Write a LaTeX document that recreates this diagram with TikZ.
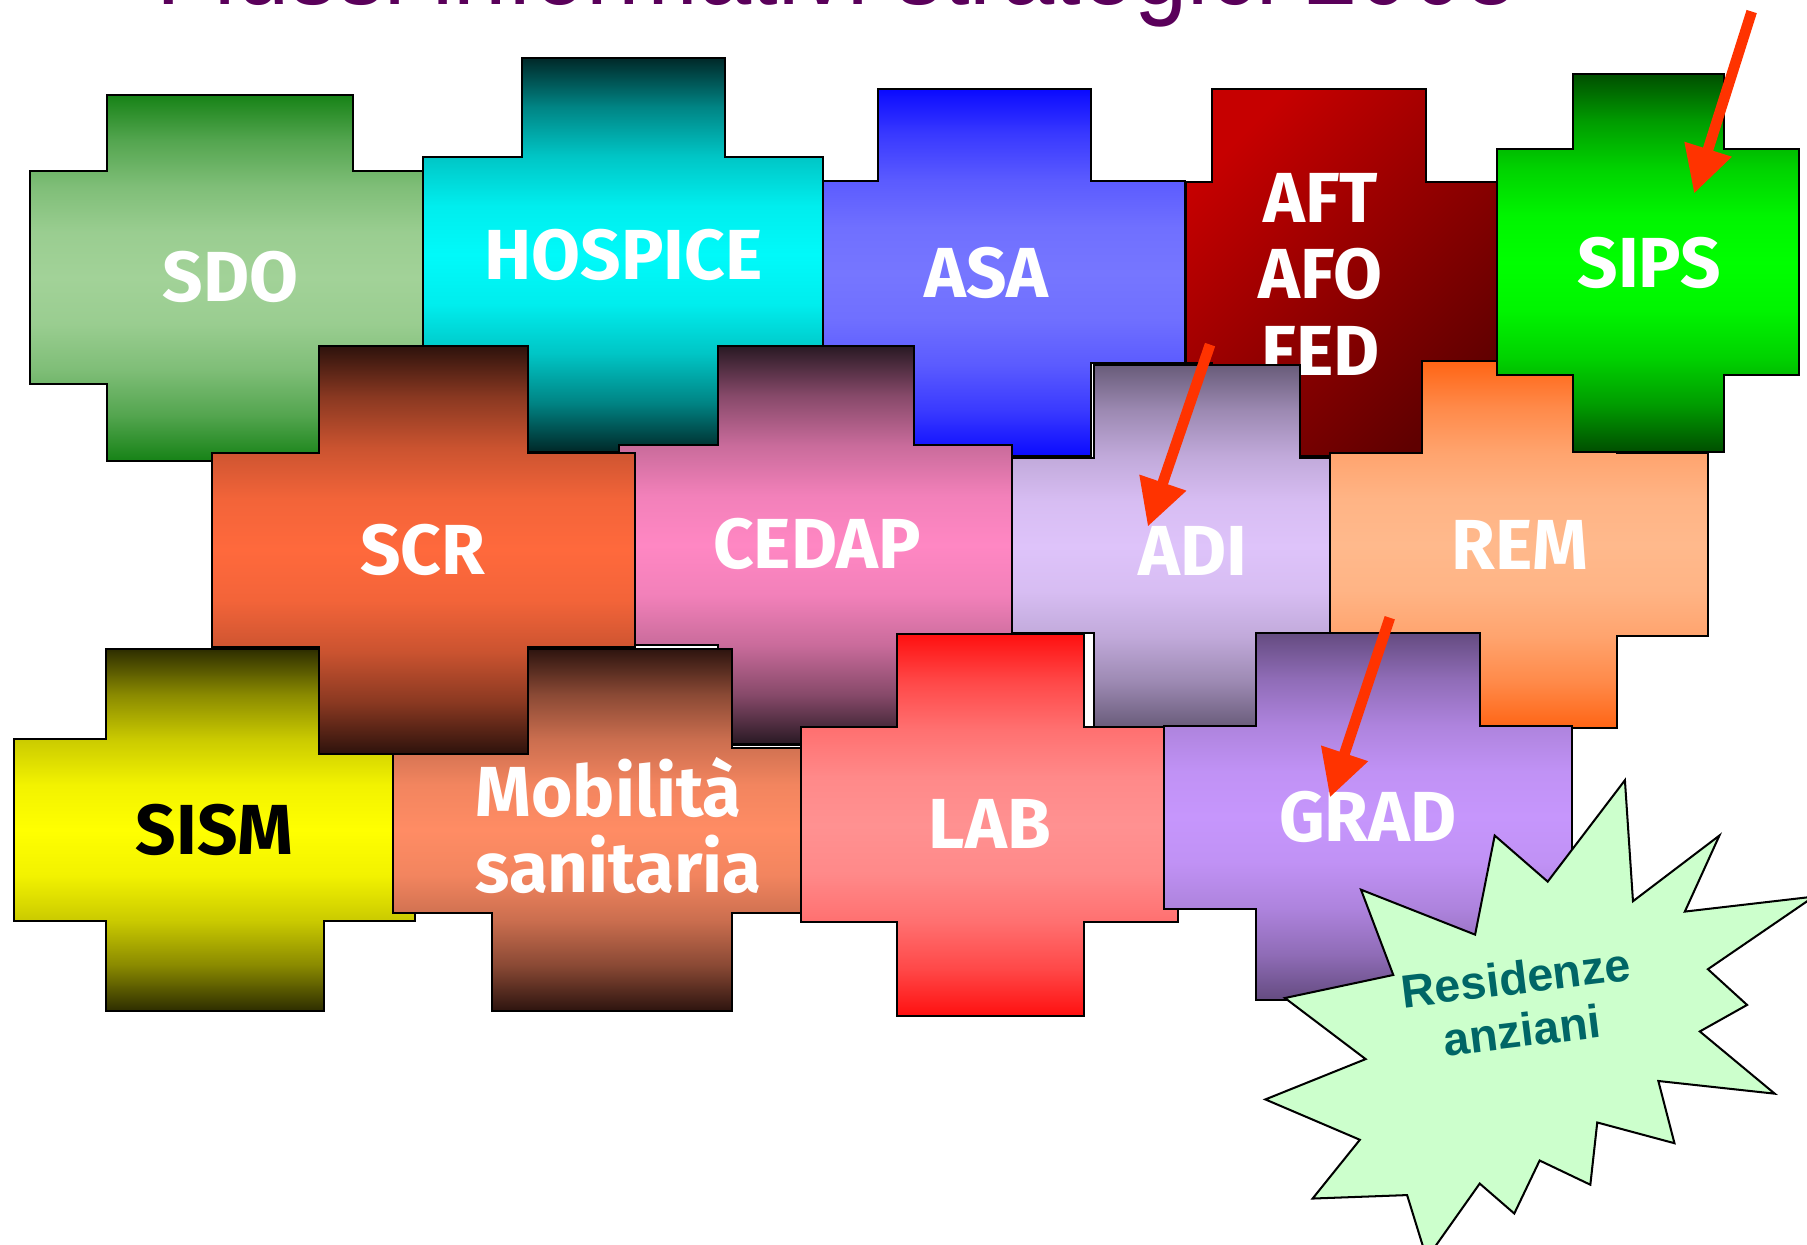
\documentclass[tikz,border=0pt]{standalone}
\usepackage{fontspec}
\setmainfont{Liberation Sans}
\newfontfamily\segno{Fira Sans}
\newfontfamily\titolofont{Liberation Sans}[FakeStretch=0.875]
\usetikzlibrary{arrows.meta}

\definecolor{viola}{RGB}{90,0,90}
\definecolor{rossofreccia}{RGB}{255,51,0}
\definecolor{verdestella}{RGB}{204,255,204}
\definecolor{petrolio}{RGB}{0,102,102}
\definecolor{sdoA}{RGB}{22,130,22}\definecolor{sdoB}{RGB}{162,210,152}
\definecolor{hosA}{RGB}{0,40,40}\definecolor{hosB}{RGB}{0,250,250}
\definecolor{asaA}{RGB}{10,10,255}\definecolor{asaB}{RGB}{118,118,255}
\definecolor{aftA}{RGB}{198,0,0}\definecolor{aftB}{RGB}{95,0,0}
\definecolor{sipsA}{RGB}{0,78,0}\definecolor{sipsB}{RGB}{0,255,0}
\definecolor{scrA}{RGB}{45,18,12}\definecolor{scrB}{RGB}{255,105,60}
\definecolor{cedA}{RGB}{40,25,35}\definecolor{cedB}{RGB}{255,135,195}
\definecolor{adiA}{RGB}{105,92,122}\definecolor{adiB}{RGB}{222,195,250}
\definecolor{remA}{RGB}{255,100,20}\definecolor{remB}{RGB}{255,185,140}
\definecolor{sismA}{RGB}{45,45,0}\definecolor{sismB}{RGB}{255,255,0}
\definecolor{mobA}{RGB}{45,20,15}\definecolor{mobB}{RGB}{255,140,100}
\definecolor{labA}{RGB}{255,15,15}\definecolor{labB}{RGB}{255,145,145}
\definecolor{gradA}{RGB}{100,75,128}\definecolor{gradB}{RGB}{198,150,252}

\pgfdeclareverticalshading[scuro,chiaro]{croce}{100bp}{color(0bp)=(scuro); color(25bp)=(scuro);
  color(31.25bp)=(chiaro!44!scuro); color(37.5bp)=(chiaro!75!scuro); color(43.75bp)=(chiaro!94!scuro);
  color(50bp)=(chiaro); color(56.25bp)=(chiaro!94!scuro); color(62.5bp)=(chiaro!75!scuro);
  color(68.75bp)=(chiaro!44!scuro); color(75bp)=(scuro); color(100bp)=(scuro)}

\tikzset{
  croce/.style={draw=black,line width=0.5pt},
  fascia/.style 2 args={/utils/exec={\colorlet{scuro}{#1}\colorlet{chiaro}{#2}},shade,shading=croce},
  etichetta/.style={font=\segno\bfseries\fontsize{17.5}{18.8}\selectfont,text=white,inner sep=0pt,align=center},
  puntatore/.style={draw=rossofreccia,line width=2.65pt,-{Triangle[length=11.5pt,width=11.5pt]}},
  stella/.style={draw=black,line width=0.5pt,fill=verdestella},
  titolo/.style={font=\titolofont\fontsize{27}{30}\selectfont,text=viola,inner sep=0pt}
}

\newcommand{\tassello}[9]{\path[croce,#1] (#2,#4) -- (#3,#4) |- (#7,#8) |- (#3,#9) |- (#2,#5) |- (#6,#9) |- (#2,#8) -- cycle;}

\begin{document}
\begin{tikzpicture}[x=0.1mm,y=-0.1mm]
  \useasboundingbox (0,0) rectangle (1568,1080);
  \node[titolo,anchor=base west] (titolo) at (135,4) {Flussi informativi strategici 2008};

  \tassello{fascia={sdoA}{sdoB}}{93}{306}{82}{400}{26}{373}{148}{333}
  \node[etichetta] (sdo) at (200,240) {SDO};
  \tassello{fascia={hosA}{hosB}}{453}{629}{50}{392}{367}{714}{136}{306}
  \node[etichetta] (hospice) at (541,221) {HOSPICE};
  \tassello{fascia={asaA}{asaB}}{762}{947}{77}{396}{714}{1028}{157}{315}
  \node[etichetta] (asa) at (856,237) {ASA};
  \tassello{top color=aftA,bottom color=aftB,shading angle=45}{1052}{1237}{77}{396}{1029}{1305}{158}{315}
  \node[etichetta] (aft) at (1146,238) {AFT\\AFO\\FED};
  \tassello{fascia={cedA}{cedB}}{623}{793}{300}{646}{537}{878}{386}{560}
  \node[etichetta] (cedap) at (709,472) {CEDAP};
  \tassello{fascia={adiA}{adiB}}{949}{1128}{317}{631}{878}{1154}{397}{549}
  \node[etichetta] (adi) at (1035,478) {ADI};
  \tassello{fascia={remA}{remB}}{1234}{1403}{313}{632}{1154}{1482}{393}{552}
  \node[etichetta] (rem) at (1319,473) {REM};
  \tassello{fascia={sipsA}{sipsB}}{1365}{1496}{64}{392}{1299}{1561}{129}{325}
  \node[etichetta] (sips) at (1431,228) {SIPS};
  \tassello{fascia={sismA}{sismB}}{92}{281}{563}{877}{12}{360}{641}{799}
  \node[etichetta,text=black] (sism) at (186,720) {SISM};
  \tassello{fascia={mobA}{mobB}}{427}{635}{563}{877}{341}{695}{649}{792}
  \node[etichetta,align=left,anchor=west] (mobilita) at (412,716) {Mobilità\\sanitaria};
  \tassello{fascia={scrA}{scrB}}{277}{458}{300}{654}{184}{551}{393}{561}
  \node[etichetta] (scr) at (367,477) {SCR};
  \tassello{fascia={labA}{labB}}{778}{941}{550}{882}{695}{1022}{631}{800}
  \node[etichetta] (lab) at (859,715) {LAB};
  \tassello{fascia={gradA}{gradB}}{1090}{1284}{549}{868}{1010}{1364}{630}{789}
  \node[etichetta] (grad) at (1187,709) {GRAD};

  \draw[stella] (1410,677) -- (1417,782) -- (1492,725) -- (1462,791) -- (1574,778) -- (1482,841)
    -- (1516,872) -- (1475,895) -- (1540,949) -- (1439,938) -- (1453,992) -- (1386,974)
    -- (1380,1028) -- (1336,1007) -- (1314,1053) -- (1284,1027) -- (1238,1092) -- (1221,1037)
    -- (1139,1040) -- (1180,989) -- (1098,954) -- (1185,919) -- (1115,866) -- (1209,846)
    -- (1181,772) -- (1280,811) -- (1297,725) -- (1343,765) -- cycle;
  \node[font=\bfseries\fontsize{11.5}{13.1}\selectfont,text=petrolio,rotate=7,align=center,inner sep=0pt] (residenze) at (1318,871) {Residenze\\anziani};

  \coordinate (sips-coda) at (1520,10);
  \coordinate (sips-punta) at (1470,168);
  \coordinate (adi-coda) at (1050,299);
  \coordinate (adi-punta) at (996,457);
  \coordinate (grad-coda) at (1206,536);
  \coordinate (grad-punta) at (1154,692);
  \draw[puntatore] (sips-coda) -- (sips-punta);
  \draw[puntatore] (adi-coda) -- (adi-punta);
  \draw[puntatore] (grad-coda) -- (grad-punta);
\end{tikzpicture}
\end{document}
